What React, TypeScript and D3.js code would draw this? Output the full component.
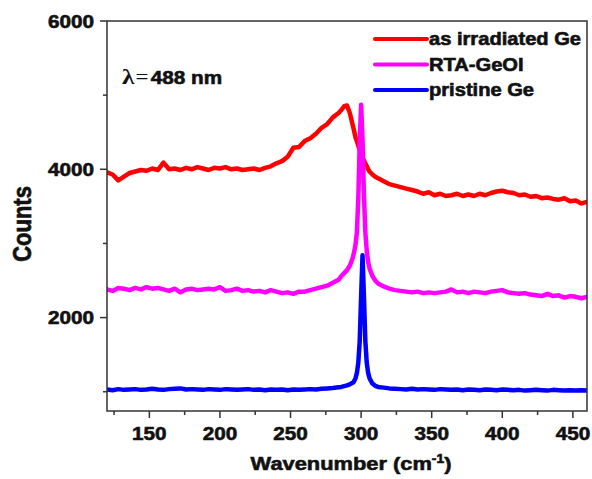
import React from "react";
import * as d3 from "d3";

// Shared wavenumber grid (cm^-1)
const wavenumbers = [
  120, 124, 128, 132, 136, 140, 144, 148, 152, 156,
  160, 164, 168, 172, 176, 180, 184, 188, 192, 196,
  200, 204, 208, 212, 216, 220, 224, 228, 232, 236,
  240, 244, 248, 252, 256, 260, 264, 268, 272, 276,
  280, 284, 286, 288, 290, 292, 294, 295, 296, 297,
  298, 299, 300, 301, 302, 303, 304, 305, 306, 308,
  310, 312, 316, 320, 324, 328, 332, 336, 340, 344,
  348, 352, 356, 360, 364, 368, 372, 376, 380, 384,
  388, 392, 396, 400, 404, 408, 412, 416, 420, 424,
  428, 432, 436, 440, 444, 448, 452, 456, 460,
];

const irradiated = [
  3960, 3930, 3850, 3900, 3950, 3970, 3990, 3980, 4010, 3990,
  4090, 4000, 4010, 3990, 4020, 4000, 4030, 4010, 3990, 4020,
  4010, 4030, 4000, 4010, 3990, 4000, 4010, 3990, 4020, 4040,
  4080, 4110, 4170, 4290, 4300, 4380, 4420, 4480, 4560, 4610,
  4700, 4760, 4800, 4850, 4860, 4760, 4600, 4520, 4430, 4380,
  4320, 4260, 4200, 4160, 4120, 4080, 4040, 4000, 3970, 3930,
  3900, 3880, 3840, 3800, 3780, 3760, 3740, 3720, 3700, 3670,
  3690, 3650, 3670, 3640, 3650, 3670, 3640, 3660, 3640, 3670,
  3650, 3680, 3700, 3710, 3690, 3680, 3650, 3660, 3630, 3640,
  3610, 3620, 3600, 3590, 3610, 3570, 3580, 3540, 3560,
];

const rtaGeOI = [
  2380, 2360, 2400, 2390, 2370, 2400, 2380, 2410, 2390, 2400,
  2380, 2360, 2390, 2340, 2380, 2390, 2370, 2380, 2390, 2380,
  2410, 2360, 2370, 2390, 2360, 2370, 2350, 2360, 2340, 2370,
  2350, 2330, 2340, 2320, 2350, 2350, 2370, 2390, 2410, 2430,
  2470, 2510, 2560, 2600, 2640, 2700, 2800, 2880, 2980, 3150,
  3600, 4350, 4870, 4400, 3650, 3150, 2900, 2750, 2660, 2560,
  2500, 2460, 2420, 2390, 2370, 2360, 2350, 2340, 2350, 2330,
  2340, 2330, 2340, 2350, 2380, 2340, 2350, 2330, 2350, 2340,
  2330, 2350, 2360, 2370, 2340, 2330, 2320, 2330, 2310, 2300,
  2290, 2320, 2290, 2300, 2270, 2290, 2280, 2260, 2280,
];

const pristine = [
  1030, 1020, 1035, 1025, 1030, 1035, 1025, 1030, 1040, 1030,
  1025, 1035, 1040, 1045, 1030, 1035, 1030, 1025, 1035, 1030,
  1025, 1035, 1030, 1025, 1030, 1035, 1025, 1030, 1020, 1030,
  1025, 1030, 1020, 1030, 1025, 1030, 1035, 1030, 1040, 1045,
  1050, 1060, 1065, 1075, 1085, 1100, 1120, 1140, 1180, 1250,
  1390, 1680, 2280, 2840, 2280, 1680, 1390, 1250, 1180, 1110,
  1080, 1065, 1055, 1045, 1040, 1035, 1030, 1040, 1030, 1035,
  1030, 1025, 1035, 1030, 1025, 1030, 1020, 1030, 1025, 1020,
  1030, 1025, 1020, 1030, 1025, 1020, 1025, 1015, 1020, 1025,
  1020, 1015, 1025, 1020, 1015, 1020, 1015, 1020, 1015,
];

const seriesNames = ["as irradiated Ge", "RTA-GeOI", "pristine Ge"];
const seriesColors = ["#ff0000", "#ff00ff", "#0000ff"];
const seriesValues = [irradiated, rtaGeOI, pristine];

const xMajorTicks = [150, 200, 250, 300, 350, 400, 450];
const xMinorTicks = [125, 175, 225, 275, 325, 375, 425];
const yMajorTicks = [2000, 4000, 6000];
const yMinorTicks = [1000, 3000, 5000];

const W = 592;
const H = 479;
const margin = { left: 107, top: 21, right: 5, bottom: 68 };
const FONT = "'Liberation Sans', Arial, sans-serif";
const SX = 1.15;
const INK = "#111";

export default function App() {
  const x = d3.scaleLinear().domain([120, 460]).range([margin.left, W - margin.right]);
  const y = d3.scaleLinear().domain([740, 6000]).range([H - margin.bottom, margin.top]);
  const line = d3
    .line<number>()
    .x((_, i) => x(wavenumbers[i]))
    .y((v) => y(v));

  const x0 = margin.left;
  const x1 = W - margin.right;
  const y0 = H - margin.bottom;
  const y1 = margin.top;
  const axisColor = "#333";
  const heavy = { stroke: INK, strokeWidth: 0.6 };

  return (
    <svg
      width={W}
      height={H}
      style={{ position: "absolute", left: 0, top: 0, background: "#fff" }}
      fontFamily={FONT}
    >
      <defs>
        <clipPath id="plot">
          <rect x={x0} y={y1} width={x1 - x0} height={y0 - y1} />
        </clipPath>
      </defs>

      {/* series */}
      <g clipPath="url(#plot)">
        {seriesValues.map((vals, k) => (
          <path
            key={k}
            d={line(vals) || ""}
            fill="none"
            stroke={seriesColors[k]}
            strokeWidth={4.5}
            strokeLinejoin="round"
            strokeLinecap="round"
          />
        ))}
      </g>

      {/* frame */}
      <rect x={x0} y={y1} width={x1 - x0} height={y0 - y1} fill="none" stroke={axisColor} strokeWidth={1.5} />

      {/* y ticks */}
      {yMajorTicks.map((t) => (
        <g key={"ym" + t}>
          <line x1={x0 - 7} x2={x0} y1={y(t)} y2={y(t)} stroke={axisColor} strokeWidth={1.5} />
          <text
            transform={`translate(${x0 - 13},${y(t) + 6.5}) scale(${SX},1)`}
            textAnchor="end"
            fontWeight="bold"
            fontSize={18}
            fill={INK}
            {...heavy}
          >
            {t}
          </text>
        </g>
      ))}
      {yMinorTicks.map((t) => (
        <line key={"yn" + t} x1={x0 - 4} x2={x0} y1={y(t)} y2={y(t)} stroke={axisColor} strokeWidth={1.5} />
      ))}

      {/* x ticks */}
      {xMajorTicks.map((t) => (
        <g key={"xm" + t}>
          <line x1={x(t)} x2={x(t)} y1={y0} y2={y0 + 7} stroke={axisColor} strokeWidth={1.5} />
          <text
            transform={`translate(${x(t)},${y0 + 29}) scale(${SX},1)`}
            textAnchor="middle"
            fontWeight="bold"
            fontSize={18}
            fill={INK}
            {...heavy}
          >
            {t}
          </text>
        </g>
      ))}
      {xMinorTicks.map((t) => (
        <line key={"xn" + t} x1={x(t)} x2={x(t)} y1={y0} y2={y0 + 4} stroke={axisColor} strokeWidth={1.5} />
      ))}

      {/* axis titles */}
      <text
        transform={`translate(${(x0 + x1) / 2 + 4},${H - 9}) scale(${SX},1)`}
        textAnchor="middle"
        fontWeight="bold"
        fontSize={19}
        fill={INK}
        {...heavy}
      >
        Wavenumber (cm
        <tspan dy={-7} fontSize={12}>
          -1
        </tspan>
        <tspan dy={7}>)</tspan>
      </text>
      <text
        transform={`translate(${31},${224}) scale(${SX},1) rotate(-90)`}
        textAnchor="middle"
        fontWeight="bold"
        fontSize={22}
        fill={INK}
        {...heavy}
      >
        Counts
      </text>

      {/* lambda annotation */}
      <text transform={`translate(${122},${84}) scale(${SX},1)`} fontSize={18} fill={INK}>
        <tspan fontFamily="'Liberation Serif', serif" fontWeight="bold" fontSize={22}>
          λ
        </tspan>
        <tspan fontFamily="'Liberation Serif', serif" fontSize={20} dx={1}>
          =
        </tspan>
        <tspan fontWeight="bold" dx={2} {...heavy}>
          488 nm
        </tspan>
      </text>

      {/* legend */}
      {seriesNames.map((name, k) => {
        const ly = 39 + k * 25.5;
        return (
          <g key={name}>
            <line x1={375} x2={427} y1={ly} y2={ly} stroke={seriesColors[k]} strokeWidth={4} strokeLinecap="round" />
            <text
              transform={`translate(${429},${ly + 6}) scale(1.15,1)`}
              fontWeight="bold"
              fontSize={17.5}
              fill={INK}
              {...heavy}
            >
              {name}
            </text>
          </g>
        );
      })}
    </svg>
  );
}
